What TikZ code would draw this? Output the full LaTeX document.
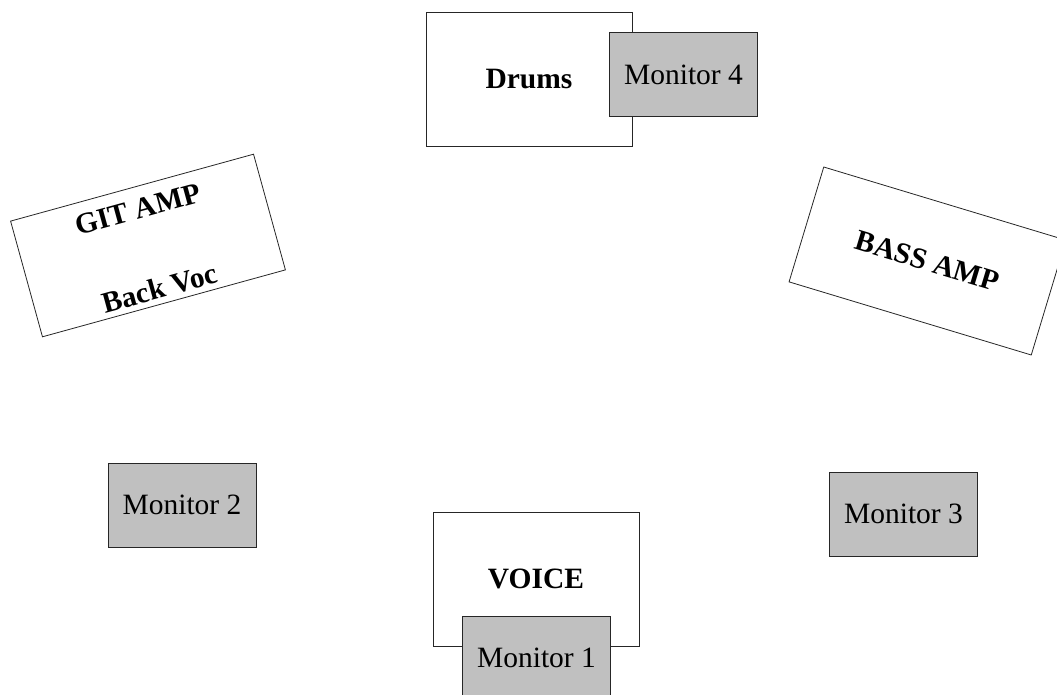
\documentclass[tikz,border=0pt]{standalone}
\usepackage{fontspec}
\setmainfont{Liberation Serif}
\usetikzlibrary{calc}
\definecolor{mon}{RGB}{192,192,192}
\begin{document}
\begin{tikzpicture}[x=1pt,y=-1pt,
  box/.style={draw=black!85, line width=0.8pt, fill=white, inner sep=0pt,
    minimum width=206pt, minimum height=134pt,
    font=\fontsize{29.5}{34}\selectfont\bfseries},
  amp/.style={box, minimum width=252pt, minimum height=120pt},
  monitor/.style={draw=black!85, line width=0.8pt, fill=mon, inner sep=0pt,
    minimum width=148pt, minimum height=84pt,
    font=\fontsize{29.5}{34}\selectfont},
  lbl/.style={inner sep=0pt, font=\fontsize{29.5}{34}\selectfont\bfseries}]
\useasboundingbox (0,0) rectangle (1057,695);
\clip (0,0) rectangle (1057,695);
\node[box] (drums) at (529,79) {Drums};
\node[monitor] (m4) at (683.5,74.5) {Monitor 4};
\node[amp, rotate=15.4] (git) at (148,245.5) {};
\node[lbl, rotate=15.4] (gitt) at ($(git.center)!0.62!(git.north)$) {GIT AMP};
\node[lbl, rotate=15.4] (back) at ($(git.center)!0.73!(git.south)$) {Back Voc};
\node[amp, minimum width=253pt, rotate=-16.8] (bass) at (927.5,261) {BASS AMP};
\node[monitor] (m2) at (182,505) {Monitor 2};
\node[monitor] (m3) at (903.5,514) {Monitor 3};
\node[box] (voice) at (536,579) {VOICE};
\node[monitor] (m1) at (536.5,658) {Monitor 1};
\end{tikzpicture}
\end{document}
